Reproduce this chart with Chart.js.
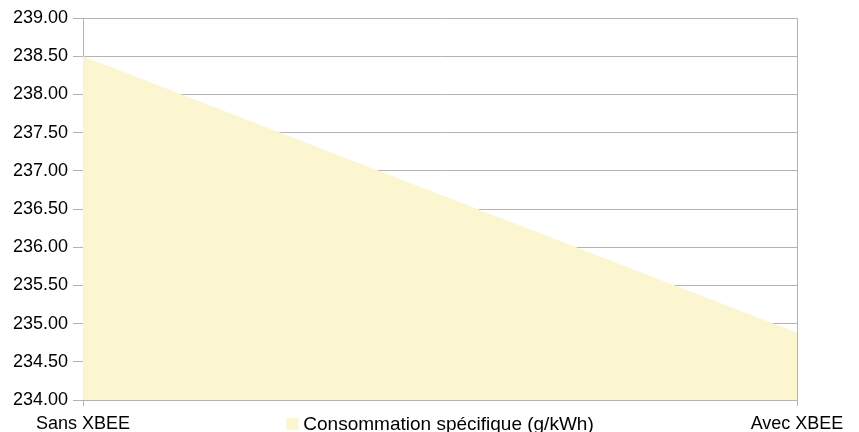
<!DOCTYPE html>
<html>
<head>
<meta charset="utf-8">
<script src="https://cdn.jsdelivr.net/npm/chart.js@4"></script>
<style>
html, body { margin: 0; padding: 0; background: #fff; }
#wrap { width: 859px; height: 432px; }
</style>
</head>
<body>
<div id="wrap"><canvas id="myChart"></canvas></div>
<script>
var categories = ['Sans XBEE', 'Avec XBEE'];
var consommation = [238.5, 234.88];
var seriesName = 'Consommation spécifique (g/kWh)';
var yMin = 234, yMax = 239, yStep = 0.5;

var gridColor = '#b3b3b3';
var fillColor = '#fbf6cf';
var textColor = '#000';
var fontFamily = '"Liberation Sans", Arial, sans-serif';

Chart.defaults.font.family = fontFamily;
Chart.defaults.font.size = 18;
Chart.defaults.color = textColor;

// legend drawn on the x label row, centred under the plot area
var rowLegend = {
    id: 'rowLegend',
    afterDraw: function(chart) {
        var c = chart.ctx;
        var area = chart.chartArea;
        var ds = chart.data.datasets[0];
        c.save();
        c.font = '19px ' + fontFamily;
        var tw = c.measureText(ds.label).width;
        var total = 12 + 5 + tw;
        var x = (area.left + area.right) / 2 - total / 2;
        c.fillStyle = ds.backgroundColor;
        c.fillRect(x, 418, 12, 12);
        c.fillStyle = textColor;
        c.textBaseline = 'alphabetic';
        c.textAlign = 'left';
        c.fillText(ds.label, x + 17, 430);
        c.restore();
    }
};

var ctx = document.getElementById('myChart').getContext('2d');
window.myChart = new Chart(ctx, {
    type: 'line',
    data: {
        labels: categories,
        datasets: [{
            label: seriesName,
            data: consommation,
            backgroundColor: fillColor,
            borderColor: fillColor,
            borderWidth: 0,
            pointRadius: 0,
            fill: 'start',
            tension: 0
        }]
    },
    options: {
        responsive: true,
        maintainAspectRatio: false,
        animation: false,
        layout: {
            padding: { top: 18, left: 8, right: 62, bottom: 0 }
        },
        plugins: {
            legend: { display: false },
            tooltip: { enabled: false }
        },
        scales: {
            x: {
                offset: false,
                grid: {
                    color: gridColor,
                    tickLength: 6
                },
                border: { color: gridColor },
                ticks: {
                    maxRotation: 0,
                    autoSkip: false,
                    padding: 7
                },
                afterFit: function(scale) {
                    scale.height = 32;
                }
            },
            y: {
                min: yMin,
                max: yMax,
                grid: {
                    color: gridColor,
                    tickLength: 10
                },
                border: { color: gridColor },
                ticks: {
                    stepSize: yStep,
                    padding: 5,
                    callback: function(v) { return v.toFixed(2); }
                }
            }
        }
    },
    plugins: [rowLegend]
});
</script>
</body>
</html>
